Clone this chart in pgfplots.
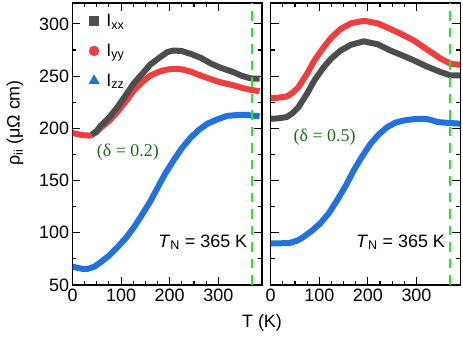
\documentclass[border=0pt]{standalone}
\usepackage{pgfplots}
\pgfplotsset{compat=1.18}
\usepackage{fontspec}
\setmainfont{Liberation Sans}
\newfontfamily\seriffont{Liberation Serif}
\definecolor{cgray}{RGB}{77,77,77}
\definecolor{cred}{RGB}{238,62,62}
\definecolor{cblue}{RGB}{33,113,222}
\definecolor{cgreen}{RGB}{35,235,35}
\definecolor{tgreen}{RGB}{25,110,25}
\newcommand{\fs}{\fontsize{18}{21}\selectfont}
\pgfplotsset{
 panel/.style={scale only axis, width=189.5bp, height=282bp,
   xmin=0, xmax=390, ymin=50, ymax=320,
   xtick={0,100,200,300}, ytick={50,100,...,300},
   minor x tick num=3, minor y tick num=1,
   tick align=inside, major tick length=8bp, minor tick length=4bp,
   every tick/.style={black, line width=1.1bp},
   axis line style={line width=1.3bp},
   tick label style={font=\fs},
   /pgf/number format/assume math mode=true},
 curve/.style={line width=6bp, no markers, line join=round, line cap=butt},
 tn/.style={cgreen, line width=2bp, dash pattern=on 9.5bp off 7bp, no markers, forget plot},
}
\begin{document}
\begin{tikzpicture}[x=1bp,y=1bp]
\begin{axis}[panel, at={(72.5bp,53bp)}, anchor=south west,
  legend style={draw=none, fill=none, at={(0.075,0.975)}, anchor=north west, font=\fs, row sep=12bp, inner sep=2bp},
  legend cell align=left]
\addlegendimage{only marks, mark=square*, mark size=4.5bp, color=cgray}
\addlegendentry{\hspace{5bp}I\textsubscript{xx}}
\addlegendimage{only marks, mark=*, mark size=5bp, color=cred}
\addlegendentry{\hspace{5bp}I\textsubscript{yy}}
\addlegendimage{only marks, mark=triangle*, mark size=6bp, color=cblue}
\addlegendentry{\hspace{5bp}I\textsubscript{zz}}
\addplot[curve, cred, forget plot] coordinates {(0,195.5) (10,194.5) (20,193.5) (36,193) (50,196.5) (57,200) (75,207) (92,215.5) (110,226) (126,236) (145,245) (160,250.5) (180,254.5) (195,256.3) (208,257) (225,256.5) (245,254) (264,250.5) (285,247) (305,244) (333,241) (347,239) (365,237) (385,235.5)};
\addplot[curve, cgray, forget plot] coordinates {(40,194) (50,197.5) (57,202) (75,210) (92,220) (110,232) (126,243) (145,253) (160,261) (180,268) (195,273) (208,274.5) (225,274) (245,271) (264,267.5) (285,262) (305,258) (333,253.5) (347,250.5) (365,248) (375,247.5) (385,247.5)};
\addplot[curve, cblue, forget plot] coordinates {(0,67.5) (10,66.5) (20,65.5) (30,65.3) (45,67.5) (57,71.5) (75,78) (92,86) (110,95) (126,105) (140,115) (160,130) (175,143) (190,156) (209,170) (225,181) (243,191) (260,198.5) (278,204.5) (300,209) (319,212) (347,213) (365,212.5) (385,211.5)};
\addplot[tn] coordinates {(370,50) (370,320)};
\node[font=\fs\seriffont, text=tgreen] at (axis cs:114,177) {(δ = 0.2)};
\node[font=\fs, anchor=east, inner sep=0pt] at (axis cs:360,91) {\textit{T}\textsubscript{N} = 365 K};
\end{axis}
\begin{axis}[panel, at={(270.7bp,53bp)}, anchor=south west, yticklabels={}]
\addplot[curve, cred] coordinates {(0,229) (15,229.3) (33,230.5) (45,234) (57,239.4) (74.5,252) (90,265) (109,277.6) (125,287) (143.5,295) (165,300.5) (191.7,303) (220,300.5) (247,295) (270,290) (295,284) (320,276) (350.5,266.5) (371,261.7) (392,260.8)};
\addplot[curve, cgray] coordinates {(0,209.2) (15,209.5) (33,210.8) (45,214.5) (57,220.3) (74.5,233) (90,246) (109,258.5) (125,267) (143.5,274.4) (165,280) (191.7,283.3) (220,280.5) (247,274.4) (270,270) (295,265) (320,259.5) (350.5,253.7) (371,250.6) (392,250.6)};
\addplot[curve, cblue] coordinates {(0,89.8) (20,89.9) (40,90.4) (55,92.5) (67.5,96) (85,102) (102,109) (120,119) (136.6,131) (155,145.5) (171,159.8) (188,173) (205.6,185.3) (222,194) (240,201.2) (257,205.5) (274.5,207.6) (295,208.8) (316,209.2) (330,208) (343.7,206) (365,205.2) (392,204.4)};
\addplot[tn] coordinates {(370,50) (370,320)};
\node[font=\fs\seriffont, text=tgreen] at (axis cs:111,191.6) {(δ = 0.5)};
\node[font=\fs, anchor=east, inner sep=0pt] at (axis cs:359,91) {\textit{T}\textsubscript{N} = 365 K};
\end{axis}
\node[font=\fs, rotate=90] at (15bp,215bp) {ρ\textsubscript{ii} (μΩ cm)};
\node[font=\fs] at (262bp,15bp) {T (K)};
\pgfresetboundingbox
\useasboundingbox (0,0) rectangle (463bp,338bp);
\end{tikzpicture}
\end{document}
